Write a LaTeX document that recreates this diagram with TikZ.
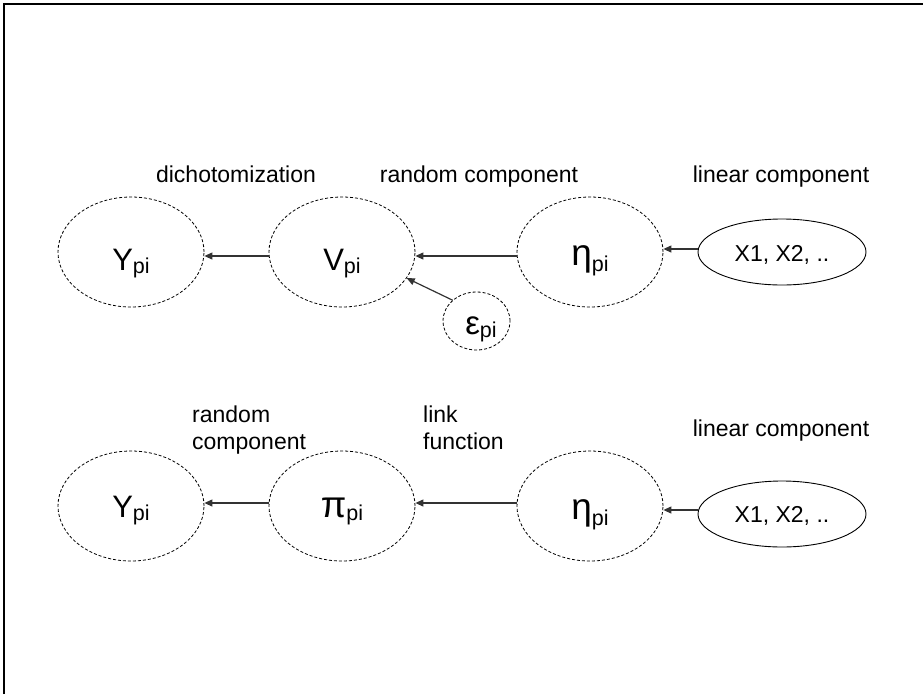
\documentclass[tikz,border=0pt]{standalone}
\usepackage{fontspec}
\setmainfont{Liberation Sans}
\usetikzlibrary{shapes.geometric,arrows.meta}
\newcommand{\lblfont}{\fontsize{23}{26.5}\selectfont}
\newcommand{\bigfont}{\fontsize{31}{32}\selectfont}
\newcommand{\grkfont}{\fontsize{37}{40}\selectfont}
\newcommand{\subtxt}[1]{\raisebox{-3pt}{\fontsize{21.5}{22}\selectfont #1}}
\tikzset{
  dashell/.style={ellipse, draw, dash pattern=on 3pt off 2pt, line width=0.8pt, minimum width=146pt, minimum height=110pt, inner sep=0pt},
  epsell/.style={ellipse, draw, dash pattern=on 3pt off 2pt, line width=0.8pt, minimum width=67pt, minimum height=58pt, inner sep=0pt},
  solell/.style={ellipse, draw, line width=0.9pt, minimum width=168pt, minimum height=66pt, inner sep=0pt},
  txt/.style={inner sep=0pt, anchor=base},
  lbl/.style={inner sep=0pt, anchor=base, font=\lblfont},
  lblw/.style={inner sep=0pt, anchor=base west, font=\lblfont},
  arr/.style={draw=black!80, line width=1.2pt, -{Triangle[length=8pt,width=7pt]}}
}
\begin{document}
\begin{tikzpicture}[x=1pt,y=-1pt]
\useasboundingbox (0,0) rectangle (923,694);
\coordinate (fbl) at (4.2,694);
\coordinate (ftl) at (4.2,4.2);
\coordinate (ftr) at (923,4.2);
\draw[line width=1.6pt] (fbl) -- (ftl) -- (ftr);

% row 1
\node[dashell] (Y1) at (131,252) {};
\node[dashell] (V1) at (342,252) {};
\node[dashell] (E1) at (590,252) {};
\node[solell] (X1) at (782,252) {};
\node[epsell] (S1) at (476.5,321) {};
\node[txt] (Y1t) at (131,270) {\bigfont Y\subtxt{pi}};
\node[txt] (V1t) at (342,270) {\bigfont V\subtxt{pi}};
\node[txt] (E1t) at (590,265) {\grkfont η\raisebox{-3pt}{\subtxt{pi}}};
\node[txt] (X1t) at (782,261) {\lblfont X1, X2, ..};
\node[txt] (S1t) at (481,334) {\fontsize{33}{34}\selectfont ε\subtxt{pi}};
\node[lbl] (L1) at (236,182) {dichotomization};
\node[lbl] (L2) at (479,182) {random component};
\node[lbl] (L3) at (781,182) {linear component};
\draw[arr] ([yshift=-4pt]V1.west) -- ([yshift=-4pt]Y1.east);
\draw[arr] ([yshift=-4pt]E1.west) -- ([yshift=-4pt]V1.east);
\draw[arr] ([yshift=3pt]X1.west) -- ([yshift=3pt]E1.east);
\draw[arr] (S1.139) -- (V1.-22);

% row 2
\node[dashell] (Y2) at (131,506) {};
\node[dashell] (P2) at (342,506) {};
\node[dashell] (E2) at (590,506) {};
\node[solell] (X2) at (782,514) {};
\node[txt] (Y2t) at (131,517) {\bigfont Y\subtxt{pi}};
\node[txt] (P2t) at (342,517) {\grkfont π\subtxt{pi}};
\node[txt] (E2t) at (590,519) {\grkfont η\raisebox{-3pt}{\subtxt{pi}}};
\node[txt] (X2t) at (782,522) {\lblfont X1, X2, ..};
\node[lblw] (M1a) at (192,422) {random};
\node[lblw] (M1b) at (192,449) {component};
\node[lblw] (M2a) at (423,422) {link};
\node[lblw] (M2b) at (423,449) {function};
\node[lbl] (M3) at (781,436) {linear component};
\draw[arr] ([yshift=3pt]P2.west) -- ([yshift=3pt]Y2.east);
\draw[arr] ([yshift=3pt]E2.west) -- ([yshift=3pt]P2.east);
\draw[arr] ([yshift=4pt]X2.west) -- ([yshift=-4pt]E2.east);
\end{tikzpicture}
\end{document}
